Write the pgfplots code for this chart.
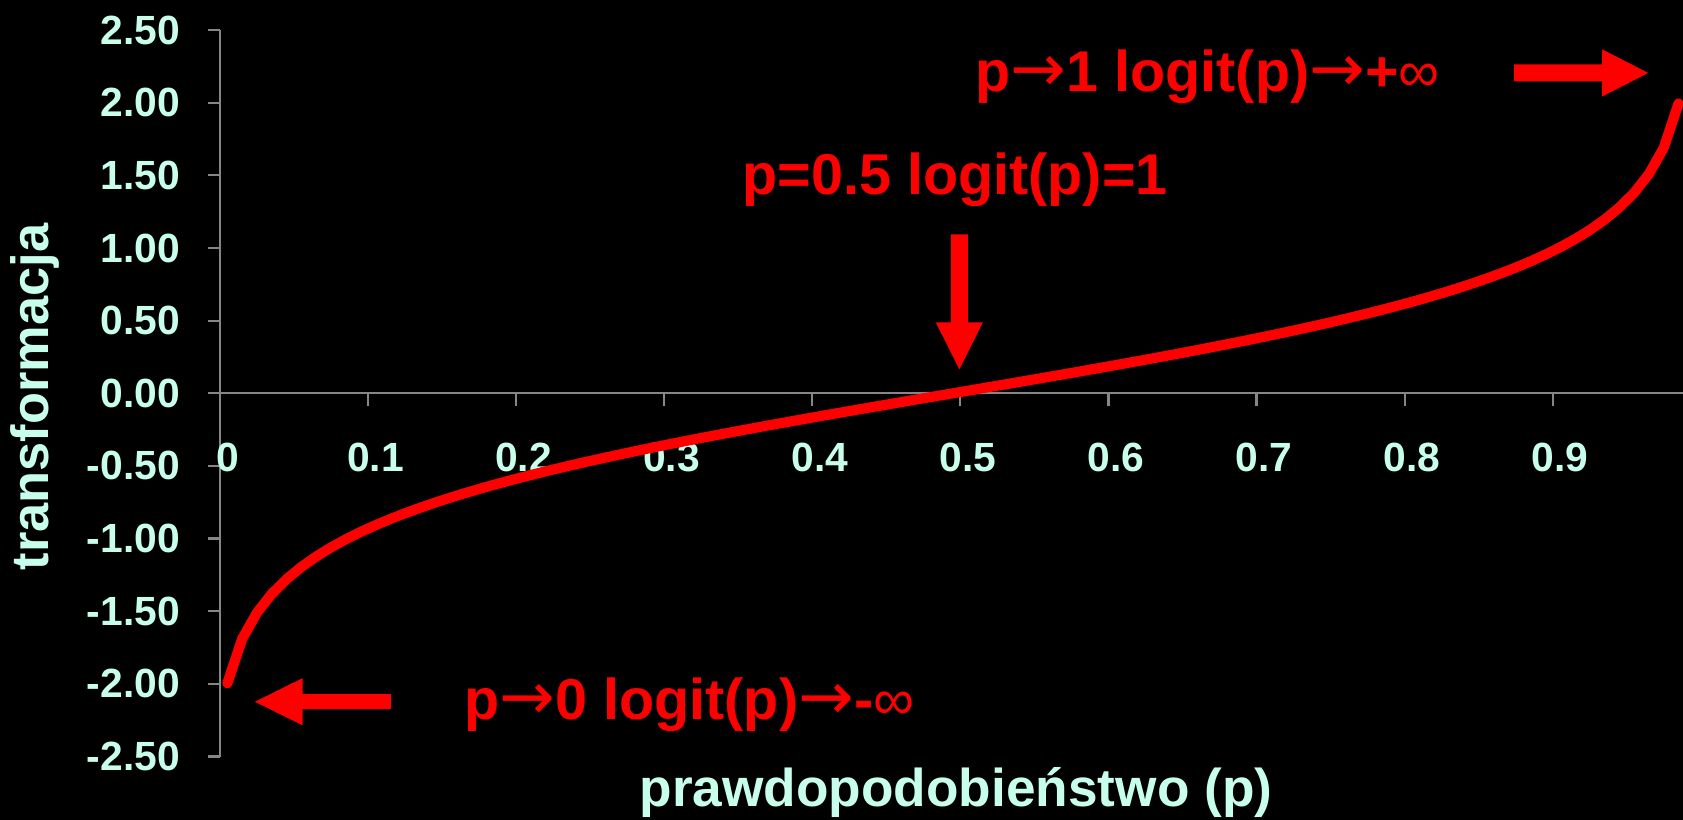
\documentclass[border=0pt]{standalone}
\usepackage{fontspec}
\setmainfont{Liberation Sans}
\newfontfamily\arrowfont{DejaVu Sans}
\usepackage{pgfplots}
\usepackage{pgfplotstable}
\pgfplotsset{compat=1.18}

\definecolor{ticktxt}{RGB}{200,255,236}
\definecolor{axgray}{RGB}{134,134,134}
\definecolor{ared}{RGB}{255,0,0}

\newcommand{\thinarrow}{{\arrowfont\mdseries\fontsize{31}{31}\selectfont →}}

% category index k (1..99) and transformed value
\pgfplotstableread{
k y
1 -1.9956
2 -1.6902
3 -1.5097
4 -1.3802
5 -1.2788
6 -1.1950
7 -1.1234
8 -1.0607
9 -1.0048
10 -0.9542
11 -0.9080
12 -0.8653
13 -0.8256
14 -0.7884
15 -0.7533
16 -0.7202
17 -0.6886
18 -0.6586
19 -0.6297
20 -0.6021
21 -0.5754
22 -0.5497
23 -0.5248
24 -0.5006
25 -0.4771
26 -0.4543
27 -0.4320
28 -0.4102
29 -0.3889
30 -0.3680
31 -0.3475
32 -0.3274
33 -0.3076
34 -0.2881
35 -0.2688
36 -0.2499
37 -0.2311
38 -0.2126
39 -0.1943
40 -0.1761
41 -0.1580
42 -0.1402
43 -0.1224
44 -0.1047
45 -0.0872
46 -0.0696
47 -0.0522
48 -0.0348
49 -0.0174
50 0.0000
51 0.0174
52 0.0348
53 0.0522
54 0.0696
55 0.0872
56 0.1047
57 0.1224
58 0.1402
59 0.1580
60 0.1761
61 0.1943
62 0.2126
63 0.2311
64 0.2499
65 0.2688
66 0.2881
67 0.3076
68 0.3274
69 0.3475
70 0.3680
71 0.3889
72 0.4102
73 0.4320
74 0.4543
75 0.4771
76 0.5006
77 0.5248
78 0.5497
79 0.5754
80 0.6021
81 0.6297
82 0.6586
83 0.6886
84 0.7202
85 0.7533
86 0.7884
87 0.8256
88 0.8653
89 0.9080
90 0.9542
91 1.0048
92 1.0607
93 1.1234
94 1.1950
95 1.2788
96 1.3802
97 1.5097
98 1.6902
99 1.9956
}\logitdata

\begin{document}
\begin{tikzpicture}
\fill[black] (-102.5pt,-29.5pt) rectangle (681.7pt,352.5pt);
\begin{axis}[
  scale only axis,
  width=681.7pt, height=338.5pt,
  at={(0pt,0pt)}, anchor=south west,
  xmin=0.5, xmax=99.3, ymin=-2.5, ymax=2.5,
  clip=false,
  axis x line=middle, axis y line=left,
  axis line style={draw=axgray, line width=1pt, -},
  hide obscured x ticks=false, hide obscured y ticks=false,
  tick align=outside,
  xtick={1,11,...,91},
  xticklabels={0,0.1,0.2,0.3,0.4,0.5,0.6,0.7,0.8,0.9},
  minor xtick={10.5,20.5,...,90.5},
  major x tick style={draw=none},
  minor x tick style={draw=axgray, line width=1pt},
  minor tick length=5.9pt,
  ytick={-2.5,-2,...,2.5},
  major tick length=5.75pt,
  ytick style={draw=axgray, line width=1pt},
  /pgf/number format/assume math mode=true,
  yticklabel style={/pgf/number format/fixed, /pgf/number format/fixed zerofill, /pgf/number format/precision=2},
  ticklabel style={font=\fontsize{19}{21}\selectfont\bfseries, text=ticktxt, inner sep=0pt},
  yticklabel style={anchor=east, xshift=-12.75pt},
  xticklabel style={anchor=base, yshift=-30.6pt},
  xlabel={prawdopodobieństwo (p)},
  ylabel={transformacja},
  every axis x label/.style={at={(rel axis cs:0.503,0)}, anchor=base, yshift=-23.5pt,
    font=\fontsize{24.8}{28}\selectfont\bfseries, text=ticktxt},
  every axis y label/.style={at={(rel axis cs:-0.1265,0.495)}, rotate=90, anchor=center,
    font=\fontsize{24.4}{28}\selectfont\bfseries, text=ticktxt},
]
\addplot[ared, line width=4.7pt, line cap=round, line join=round] table[x=k, y=y] {\logitdata};

% annotations
\node[anchor=base, text=ared, font=\fontsize{26.8}{30}\selectfont\bfseries, inner sep=0pt]
  at (axis cs:67.2,2.08) {p\thinarrow1 logit(p)\thinarrow+{\mdseries∞}};
\node[anchor=base, text=ared, font=\fontsize{26.8}{30}\selectfont\bfseries, inner sep=0pt]
  at (axis cs:50.14,1.369) {p=0.5 logit(p)=1};
\node[anchor=base, text=ared, font=\fontsize{26.8}{30}\selectfont\bfseries, inner sep=0pt]
  at (axis cs:32.2,-2.244) {p\thinarrow0 logit(p)\thinarrow-{\mdseries∞}};

% block arrows
\fill[ared] (axis cs:87.9,2.146) -- (axis cs:93.83,2.146) -- (axis cs:93.83,2.0425)
  -- (axis cs:96.95,2.205) -- (axis cs:93.83,2.3675) -- (axis cs:93.83,2.264)
  -- (axis cs:87.9,2.264) -- cycle;
\fill[ared] (axis cs:49.85,1.093) -- (axis cs:49.85,0.4885) -- (axis cs:48.836,0.4885)
  -- (axis cs:50.43,0.165) -- (axis cs:52.024,0.4885) -- (axis cs:51.01,0.4885)
  -- (axis cs:51.01,1.093) -- cycle;
\fill[ared] (axis cs:12.04,-2.0713) -- (axis cs:6.08,-2.0713) -- (axis cs:6.08,-1.9605)
  -- (axis cs:2.86,-2.123) -- (axis cs:6.08,-2.2855) -- (axis cs:6.08,-2.1747)
  -- (axis cs:12.04,-2.1747) -- cycle;
\end{axis}
\pgfresetboundingbox
\useasboundingbox (-102.5pt,-29.5pt) rectangle (681.7pt,352.5pt);
\end{tikzpicture}
\end{document}
